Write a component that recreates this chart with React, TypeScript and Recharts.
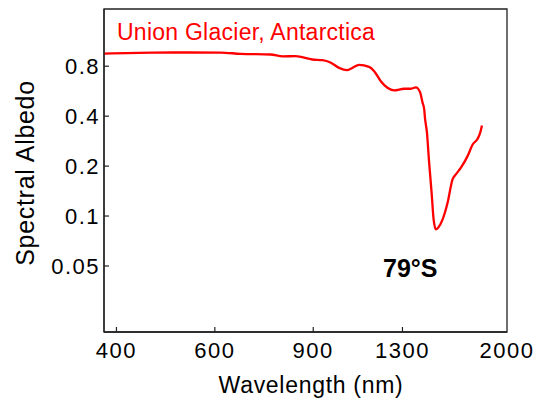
import { LineChart, Line, XAxis, YAxis, ReferenceArea, Customized } from "recharts";

const wavelengths = [
  380, 466, 540, 614, 667, 755, 794, 837, 897, 935, 968, 1001, 1034, 1058,
  1087, 1133, 1157, 1189, 1222, 1256, 1309, 1346, 1374, 1398, 1412, 1422,
  1426, 1438, 1451, 1466, 1478, 1492, 1506, 1534, 1566, 1598, 1620, 1654,
  1700, 1736, 1772, 1791, 1804,
];
const albedo = [
  0.954, 0.967, 0.968, 0.967, 0.95, 0.941, 0.918, 0.919, 0.878, 0.87, 0.839,
  0.782, 0.757, 0.782, 0.816, 0.793, 0.746, 0.65, 0.593, 0.572, 0.585, 0.585,
  0.597, 0.558, 0.483, 0.439, 0.393, 0.318, 0.21, 0.138, 0.0955, 0.0831,
  0.0851, 0.0955, 0.1206, 0.1665, 0.1783, 0.1956, 0.2297, 0.27, 0.292, 0.318,
  0.351,
];
const xTicks = [400, 600, 900, 1300, 2000];
const yTicks = [0.05, 0.1, 0.2, 0.4, 0.8];
const xDomain = [380, 2000];
const yDomain = [0.02, 1.77];

const data = wavelengths.map((wl, i) => ({ wl, albedo: albedo[i] }));

const FONT = "'Liberation Sans', Arial, sans-serif";
const AXIS = "#222";

// ticks point into the plot, so draw the little lines ourselves
function XTick(props: any) {
  const { x, y, payload } = props;
  const last = payload.value === xDomain[1];
  return (
    <g>
      {!last && <line x1={x} x2={x} y1={y} y2={y - 5} stroke={AXIS} strokeWidth={1.2} />}
      <text
        x={x}
        y={y + 26}
        textAnchor="middle"
        fill="#000"
        fontSize={22}
        letterSpacing={1.5}
        fontFamily={FONT}
      >
        {payload.value}
      </text>
    </g>
  );
}

function YTick(props: any) {
  const { x, y, payload } = props;
  return (
    <g>
      <line x1={x} x2={x + 5} y1={y} y2={y} stroke={AXIS} strokeWidth={1.2} />
      <text
        x={x - 4}
        y={y + 8}
        textAnchor="end"
        fill="#000"
        fontSize={22}
        letterSpacing={1.5}
        fontFamily={FONT}
      >
        {payload.value}
      </text>
    </g>
  );
}

function Annotations() {
  return (
    <g style={{ fontFamily: FONT }}>
      <text x={117} y={40} fill="#ff0000" fontSize={23} letterSpacing={0.25}>
        Union Glacier, Antarctica
      </text>
      <text x={383} y={277} fill="#000" fontSize={25} fontWeight="bold">
        79°S
      </text>
      <text x={311} y={393} fill="#000" fontSize={23} letterSpacing={0.7} textAnchor="middle">
        Wavelength (nm)
      </text>
      <text
        x={33.5}
        y={173}
        fill="#000"
        fontSize={25}
        letterSpacing={0.7}
        textAnchor="middle"
        transform="rotate(-90, 33.5, 173)"
      >
        Spectral Albedo
      </text>
    </g>
  );
}

export default function App() {
  return (
    <div style={{ position: "absolute", left: 0, top: 0, background: "#fff" }}>
      <LineChart
        width={537}
        height={404}
        data={data}
        margin={{ top: 9, right: 30, left: 0, bottom: 0 }}
        style={{ fontFamily: FONT }}
      >
        <XAxis
          dataKey="wl"
          type="number"
          scale="log"
          domain={xDomain}
          allowDataOverflow
          ticks={xTicks}
          height={72}
          tickSize={0}
          tickMargin={0}
          tickLine={false}
          tick={<XTick />}
          interval={0}
          stroke={AXIS}
          strokeWidth={1.3}
        />
        <YAxis
          type="number"
          scale="log"
          domain={yDomain}
          allowDataOverflow
          ticks={yTicks}
          width={104}
          tickSize={0}
          tickMargin={0}
          tickLine={false}
          tick={<YTick />}
          interval={0}
          stroke={AXIS}
          strokeWidth={1.3}
        />
        <ReferenceArea
          x1={xDomain[0]}
          x2={xDomain[1]}
          y1={yDomain[0]}
          y2={yDomain[1]}
          fill="none"
          stroke={AXIS}
          strokeWidth={1.3}
          ifOverflow="visible"
        />
        <Line
          dataKey="albedo"
          type="monotone"
          stroke="#ff0000"
          strokeWidth={2.3}
          dot={false}
          isAnimationActive={false}
        />
        <Customized component={Annotations} />
      </LineChart>
    </div>
  );
}
